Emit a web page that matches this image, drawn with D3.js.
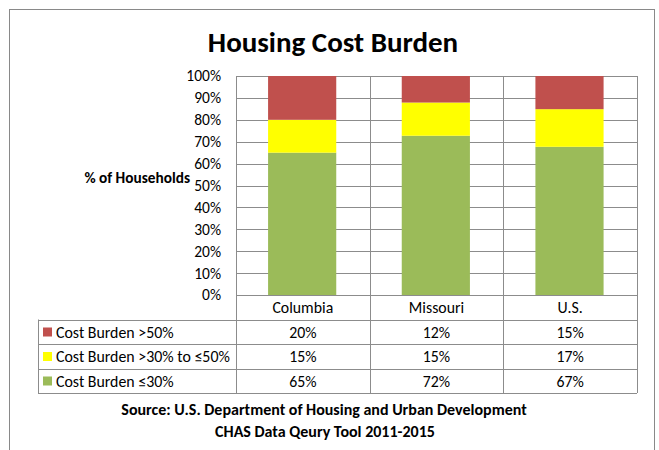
<!DOCTYPE html>
<html>
<head>
<meta charset="utf-8">
<script src="https://cdn.jsdelivr.net/npm/d3@7"></script>
<style>
  body { margin: 0; background: #fff; }
  svg text { font-family: Carlito, Lato, "Open Sans", sans-serif; fill: #000; }
</style>
</head>
<body>
<div id="chart"></div>
<script>
// Chart data
var categories = ["Columbia", "Missouri", "U.S."];
var seriesNames = ["Cost Burden \u226430%", "Cost Burden >30% to \u226450%", "Cost Burden >50%"];
var burdenLow = [65, 72, 67];
var burdenMid = [15, 15, 17];
var burdenHigh = [20, 12, 15];
var yTicks = [0, 0.1, 0.2, 0.3, 0.4, 0.5, 0.6, 0.7, 0.8, 0.9, 1];
var colors = ["#9BBB59", "#FFFF00", "#C0504D"];

var W = 659, H = 450;
var plot = {left: 236, right: 637, top: 76, bottom: 295};
var rowH = 24.5;
var legendLeft = 38;

var svg = d3.select("#chart").append("svg")
  .attr("width", W)
  .attr("height", H);

// outer frame (bottom runs off the picture)
svg.append("rect")
  .attr("x", 9.5).attr("y", 9.5)
  .attr("width", 645).attr("height", 460)
  .attr("fill", "#fff")
  .attr("stroke", "#898989");

// title
svg.append("text")
  .attr("x", 333).attr("y", 52)
  .attr("text-anchor", "middle")
  .style("font-size", "29px")
  .style("font-weight", "bold")
  .text("Housing Cost Burden");

// build rows for d3.stack
var rows = categories.map(function(c, i) {
  return {cat: c, low: burdenLow[i], mid: burdenMid[i], high: burdenHigh[i]};
});
var stack = d3.stack()
  .keys(["low", "mid", "high"])
  .offset(d3.stackOffsetExpand);
var stacked = stack(rows);

var x = d3.scaleBand()
  .domain(categories)
  .range([plot.left, plot.right]);

var y = d3.scaleLinear()
  .domain([0, 1])
  .range([plot.bottom, plot.top]);

// gridlines
svg.append("g")
  .selectAll("line")
  .data(yTicks)
  .enter()
  .append("line")
    .attr("x1", plot.left).attr("x2", plot.right)
    .attr("y1", function(d) { return Math.round(y(d)) + 0.5; })
    .attr("y2", function(d) { return Math.round(y(d)) + 0.5; })
    .attr("stroke", "#8c8c8c");

// y axis labels
var yAxis = svg.append("g")
  .attr("transform", "translate(" + plot.left + ",0)")
  .call(d3.axisLeft(y).tickValues(yTicks).tickFormat(d3.format(".0%")).tickSize(0).tickPadding(15));
yAxis.select(".domain").remove();
yAxis.selectAll("text")
  .style("font-size", "15.5px")
  .style("font-family", "Carlito, Lato, 'Open Sans', sans-serif")
  .attr("fill", "#000");

// y axis title
svg.append("text")
  .attr("x", 190).attr("y", 183)
  .attr("text-anchor", "end")
  .style("font-size", "15.3px")
  .style("font-weight", "bold")
  .text("% of Households");

// bars
svg.append("g")
  .selectAll("g")
  .data(stacked)
  .enter()
  .append("g")
    .attr("fill", function(d, i) { return colors[i]; })
  .selectAll("rect")
  .data(function(d) { return d; })
  .enter()
  .append("rect")
    .attr("x", function(d) { return x(d.data.cat) + x.bandwidth() * 0.24; })
    .attr("y", function(d) { return y(d[1]); })
    .attr("width", x.bandwidth() * 0.51)
    .attr("height", function(d) { return y(d[0]) - y(d[1]); });

// data table
var tableRows = [
  {name: seriesNames[2], vals: burdenHigh, color: colors[2]},
  {name: seriesNames[1], vals: burdenMid, color: colors[1]},
  {name: seriesNames[0], vals: burdenLow, color: colors[0]}
];
var tableTop = plot.bottom + rowH;
var tableBottom = tableTop + rowH * tableRows.length;

var grid = svg.append("g").attr("stroke", "#8c8c8c");
// vertical lines through plot and table
var vx = [plot.left, x("Missouri"), x("U.S."), plot.right];
grid.selectAll(".v")
  .data(vx)
  .enter()
  .append("line")
    .attr("x1", function(d) { return Math.round(d) + 0.5; })
    .attr("x2", function(d) { return Math.round(d) + 0.5; })
    .attr("y1", plot.top)
    .attr("y2", tableBottom);
// legend column left edge
grid.append("line")
  .attr("x1", legendLeft + 0.5).attr("x2", legendLeft + 0.5)
  .attr("y1", tableTop).attr("y2", tableBottom);
// horizontal table lines
grid.selectAll(".h")
  .data(d3.range(tableRows.length + 1))
  .enter()
  .append("line")
    .attr("x1", legendLeft).attr("x2", plot.right)
    .attr("y1", function(i) { return Math.round(tableTop + i * rowH) + 0.5; })
    .attr("y2", function(i) { return Math.round(tableTop + i * rowH) + 0.5; });

// category labels
svg.append("g")
  .selectAll("text")
  .data(categories)
  .enter()
  .append("text")
    .attr("x", function(d) { return x(d) + x.bandwidth() / 2; })
    .attr("y", plot.bottom + 18)
    .attr("text-anchor", "middle")
    .style("font-size", "15.8px")
    .text(function(d) { return d; });

// table rows
var tr = svg.append("g")
  .selectAll("g")
  .data(tableRows)
  .enter()
  .append("g")
    .attr("transform", function(d, i) { return "translate(0," + (tableTop + i * rowH) + ")"; });

tr.append("rect")
  .attr("x", 43).attr("y", 8)
  .attr("width", 9).attr("height", 9)
  .attr("fill", function(d) { return d.color; });

tr.append("text")
  .attr("x", 56).attr("y", 18)
  .style("font-size", "15.9px")
  .text(function(d) { return d.name; });

tr.selectAll(".val")
  .data(function(d) { return d.vals; })
  .enter()
  .append("text")
    .attr("x", function(d, i) { return x(categories[i]) + x.bandwidth() / 2; })
    .attr("y", 18)
    .attr("text-anchor", "middle")
    .style("font-size", "15.8px")
    .text(function(d) { return d + "%"; });

// source note
svg.append("text")
  .attr("x", 324).attr("y", 415)
  .attr("text-anchor", "middle")
  .style("font-size", "16px")
  .style("font-weight", "bold")
  .text("Source: U.S. Department of Housing and Urban Development");
svg.append("text")
  .attr("x", 325).attr("y", 437)
  .attr("text-anchor", "middle")
  .style("font-size", "16px")
  .style("font-weight", "bold")
  .text("CHAS Data Qeury Tool 2011-2015");
</script>
</body>
</html>
